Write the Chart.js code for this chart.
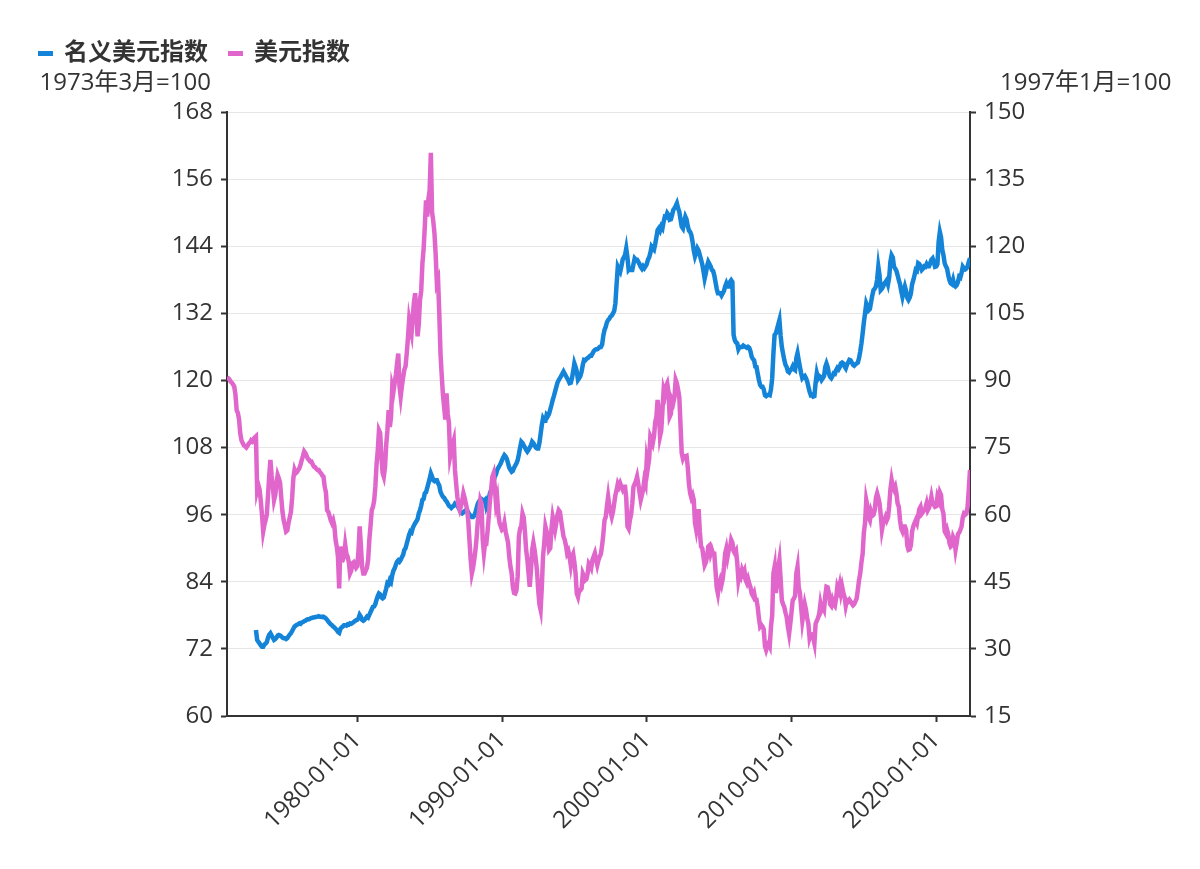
<!DOCTYPE html>
<html><head><meta charset="utf-8">
<script src="https://cdn.jsdelivr.net/npm/chart.js@4.4.1/dist/chart.umd.min.js"></script>
<style>html,body{margin:0;padding:0;background:#fff;}#wrap{width:1200px;height:869px;}</style>
</head><body><div id="wrap"><canvas id="c" width="1200" height="869"></canvas></div>
<script>
// monthly series, first month of the x axis = 1971-01
const firstYear = 1971;
const seriesNames = ['名义美元指数', '美元指数'];
const axisNames = ['1973年3月=100', '1997年1月=100'];
const xTickDates = ['1980-01-01', '1990-01-01', '2000-01-01', '2010-01-01', '2020-01-01'];
const leftTicks = [60, 72, 84, 96, 108, 120, 132, 144, 156, 168];
const rightTicks = [15, 30, 45, 60, 75, 90, 105, 120, 135, 150];

// 美元指数 (left axis), monthly from 1971-01
const dxyStart = '1971-01';
const dxy = [
120.5,120.4,120.2,119.8,119.6,119.3,118.9,117.5,114.7,114.2,113.0,110.5,
109.3,108.8,108.4,108.2,108.0,108.3,108.7,108.9,109.3,109.1,109.5,109.8,
110.0,100.4,101.3,100.5,98.5,96.0,93.0,94.2,95.0,96.0,99.5,103.0,
105.8,103.0,101.0,98.6,99.5,101.5,103.1,102.5,101.7,99.0,96.5,95.0,
94.0,93.0,93.2,94.5,95.5,96.5,99.0,102.5,104.0,103.4,103.6,104.0,
104.3,105.0,105.8,106.5,107.3,107.0,106.5,106.0,105.8,105.5,105.5,105.0,
104.6,104.5,104.2,104.0,104.0,103.6,103.4,103.0,102.8,101.0,100.0,96.8,
96.5,95.8,95.0,94.5,95.0,94.0,91.5,90.3,88.5,82.8,90.3,88.0,
87.9,88.5,90.6,89.0,88.5,87.5,85.5,86.0,87.3,87.5,87.0,86.5,
86.8,89.5,93.9,90.5,86.7,85.5,85.5,86.0,86.5,87.9,91.5,94.0,
96.8,97.4,98.5,101.0,105.0,107.5,111.1,110.6,106.5,103.5,102.8,104.5,
108.5,111.1,114.7,111.7,113.5,118.9,118.0,119.5,121.0,123.0,124.8,119.0,
117.1,119.0,120.5,121.9,122.5,124.8,127.5,130.8,129.5,128.4,131.5,134.0,
135.6,131.5,127.9,130.0,134.4,136.0,140.9,143.5,147.5,152.2,149.3,152.5,
154.0,160.7,150.1,148.5,146.3,142.5,137.4,138.0,132.0,124.8,121.0,117.5,
115.3,113.0,117.7,114.0,112.4,106.4,107.5,108.5,109.3,104.0,101.5,99.2,
97.5,96.8,97.5,98.5,99.8,99.0,98.0,97.0,95.0,91.5,88.0,85.5,
86.5,88.0,89.7,92.0,95.0,96.5,98.6,98.0,91.5,89.1,91.0,90.9,
93.0,95.6,98.5,100.5,102.8,103.4,101.0,98.0,99.0,96.0,94.5,93.9,
93.3,93.5,94.5,93.0,92.0,91.0,88.5,86.7,85.5,83.1,82.0,81.9,
82.5,85.0,92.1,93.5,94.0,96.2,95.5,93.0,89.7,88.0,85.5,83.1,
86.0,89.7,91.0,89.7,88.0,86.0,82.5,80.0,79.0,83.0,88.5,90.9,
93.9,93.0,91.5,89.7,90.0,93.5,95.6,94.5,93.3,94.5,96.0,96.8,
96.5,95.0,93.5,92.1,91.5,90.5,89.1,89.5,88.5,87.0,88.5,89.0,
87.5,85.5,81.9,81.3,82.5,82.5,82.8,85.5,85.0,84.3,84.5,85.5,
87.3,87.0,86.5,87.9,88.5,89.1,88.0,87.0,87.9,88.5,89.0,90.5,
92.5,95.0,95.6,97.5,99.2,97.5,96.5,95.6,96.5,98.0,99.5,100.4,
101.5,101.0,101.6,101.0,100.5,101.0,101.0,99.0,93.9,93.5,95.0,96.0,
98.0,101.0,101.5,102.0,102.8,101.5,100.0,98.6,99.5,100.5,102.2,101.5,
105.8,104.5,106.0,110.0,109.5,108.8,110.0,112.5,113.5,116.5,114.5,110.0,
111.0,114.5,118.3,117.5,119.0,119.5,118.0,113.5,114.0,116.5,116.0,117.0,
120.1,119.5,118.3,117.0,112.0,107.0,106.0,106.5,106.4,106.5,104.5,101.5,
99.8,99.0,99.5,98.6,94.5,93.3,95.0,97.0,93.0,90.3,90.0,88.5,
87.0,87.5,88.5,90.3,90.5,89.0,89.7,89.0,89.0,86.0,83.0,81.9,
83.5,84.3,83.5,84.5,86.5,89.1,90.0,88.5,89.7,90.0,91.5,91.0,
89.5,89.1,89.5,87.5,84.3,85.5,85.0,86.1,85.5,86.0,84.3,83.8,
84.5,83.7,83.0,81.9,81.5,82.0,80.8,80.8,79.5,77.5,76.0,76.3,
76.0,75.5,72.5,71.8,72.5,73.0,72.5,76.0,78.0,85.5,86.7,82.0,
83.5,86.5,87.9,84.5,80.7,80.0,79.5,78.5,77.7,76.0,74.7,76.5,
78.5,80.7,81.0,81.5,85.5,86.7,83.0,82.0,79.5,77.0,78.5,80.0,
79.0,77.5,76.5,74.0,74.7,74.5,74.0,73.0,76.5,77.0,77.5,78.3,
80.1,79.0,79.5,79.0,81.5,83.1,83.0,82.0,80.0,79.7,80.7,80.0,
79.7,81.0,83.1,82.5,83.5,82.0,83.1,82.0,81.3,79.7,80.7,80.5,
80.8,80.5,80.1,79.8,80.0,80.5,81.0,82.5,84.3,85.5,87.5,89.0,
92.8,94.5,98.6,97.5,95.5,95.0,96.5,95.8,96.0,96.8,99.0,99.8,
99.0,98.0,96.0,93.3,94.5,95.0,95.6,95.0,95.5,97.5,100.5,102.2,
101.0,100.5,101.0,99.8,98.0,97.4,95.0,93.5,93.0,93.9,93.9,93.3,
90.5,89.7,89.8,90.5,93.0,93.9,94.5,95.0,94.5,95.8,97.0,97.4,
96.2,96.5,96.8,97.2,98.0,96.8,97.2,98.0,99.2,98.0,97.8,97.4,
97.5,99.2,98.6,100.0,99.5,97.0,96.2,93.0,92.6,93.3,92.5,90.9,
90.3,90.5,92.0,91.5,89.7,91.0,92.5,92.8,93.3,93.9,95.5,96.2,
96.0,96.2,97.4,100.5,104.0
];

// 名义美元指数 (right axis), monthly from 1973-01
const broadStart = '1973-01';
const broad = [
34.2,32.0,31.6,31.2,30.8,30.5,30.5,31.0,31.2,31.5,32.5,33.2,
33.5,33.0,32.5,32.0,32.2,32.5,33.0,33.1,33.0,32.8,32.5,32.4,
32.4,32.2,32.4,32.8,33.2,33.5,34.0,34.5,35.0,35.2,35.4,35.5,
35.7,35.6,35.9,36.0,36.2,36.3,36.5,36.6,36.6,36.8,36.9,37.0,
37.0,37.1,37.1,37.2,37.3,37.2,37.2,37.1,37.2,37.0,36.8,36.5,
36.1,35.8,35.5,35.3,35.0,34.8,34.5,34.2,33.8,33.6,34.5,34.8,
35.0,35.3,35.3,35.2,35.5,35.4,35.7,35.6,35.8,36.0,36.2,36.4,
36.5,36.8,37.6,37.2,36.5,36.3,36.5,36.8,37.2,37.0,37.6,38.2,
38.8,39.4,39.5,40.0,41.0,41.8,42.4,42.2,41.5,41.3,41.5,42.5,
43.5,44.7,44.5,45.4,45.0,46.5,47.5,48.0,48.8,49.5,49.8,49.5,
49.9,50.5,51.0,52.1,52.5,53.5,54.5,55.5,56.2,56.0,57.0,57.6,
58.1,58.5,59.0,60.3,61.0,62.0,63.3,63.5,64.8,65.0,66.0,67.0,
68.0,69.2,68.5,67.7,67.5,67.7,67.7,67.0,66.5,65.1,64.5,64.0,
63.8,63.3,63.0,62.5,62.0,61.8,61.5,61.8,62.0,62.5,62.3,62.0,
61.5,61.0,60.5,60.3,60.5,60.8,61.0,61.0,60.5,60.0,59.8,59.5,
59.5,59.8,60.5,61.5,62.5,63.0,63.3,63.5,63.3,63.0,63.3,61.8,
62.5,63.5,64.8,65.5,66.5,67.5,68.5,69.0,70.0,70.5,71.0,71.5,
72.2,72.8,73.3,73.0,72.5,71.5,70.5,70.0,69.6,69.8,70.5,71.0,
71.5,72.2,73.5,75.0,76.3,76.0,75.5,75.0,74.5,74.1,74.5,75.0,
75.5,76.3,76.0,75.5,75.0,74.8,74.8,76.0,78.0,80.0,81.5,81.0,
81.0,82.3,82.0,82.5,83.5,84.5,85.6,86.5,87.5,88.5,89.5,90.1,
90.5,91.0,91.5,92.0,91.5,91.0,90.5,90.0,89.4,89.5,90.5,92.0,
93.8,93.0,92.0,90.1,90.5,91.0,92.0,93.5,94.6,94.5,94.8,95.0,
95.2,95.5,95.5,96.0,96.5,96.8,97.0,97.0,97.2,97.5,97.5,98.0,
100.0,101.3,102.0,103.0,103.5,103.8,104.3,104.5,105.0,105.5,107.2,111.5,
115.4,114.8,114.3,115.5,117.0,117.5,118.0,119.5,117.5,114.7,115.0,114.7,
114.7,116.0,117.3,117.0,117.0,116.5,116.0,115.4,115.0,115.5,115.1,115.5,
116.0,117.0,117.5,118.5,119.9,119.5,119.2,120.5,122.0,123.6,124.0,123.5,
124.4,124.0,125.5,126.6,126.5,127.4,127.0,125.9,126.0,127.0,128.1,128.5,
129.0,129.6,128.5,127.7,126.0,124.4,124.0,125.5,126.6,126.0,124.5,123.5,
123.2,122.5,121.0,119.0,117.7,118.5,119.5,119.0,118.0,117.0,116.0,114.5,
112.8,114.0,115.5,116.5,116.0,115.5,114.7,114.5,113.5,112.0,110.5,109.5,
109.5,109.5,109.0,109.5,110.0,111.0,111.7,111.0,111.0,112.0,112.4,112.0,
100.2,99.0,98.5,98.3,97.0,97.5,97.5,97.5,97.8,97.6,97.5,97.3,
97.5,97.3,96.5,95.3,94.8,94.5,93.1,93.0,91.5,90.1,89.0,88.6,
88.6,88.0,86.7,86.5,86.7,86.8,86.7,88.0,90.5,96.0,100.2,100.5,
101.5,102.5,103.5,100.0,97.5,96.0,94.6,93.5,93.0,92.0,91.8,92.3,
92.5,93.1,92.5,92.3,95.0,96.1,94.5,93.0,91.6,90.5,90.8,91.0,
90.5,89.8,88.6,87.5,86.7,86.8,86.4,86.5,89.5,91.6,90.5,91.0,
90.8,90.1,90.5,91.0,93.0,93.8,93.0,91.5,90.8,90.5,91.0,91.6,
91.5,92.3,92.8,92.5,93.0,93.8,94.0,93.8,93.1,92.7,93.5,94.0,
94.6,94.5,94.0,93.5,93.3,93.6,93.8,94.0,95.0,96.5,98.3,100.5,
103.0,105.0,107.2,106.5,105.7,106.0,107.5,109.0,110.2,110.5,111.0,112.5,
115.4,113.5,110.2,110.5,111.0,111.7,112.0,112.4,111.5,113.0,116.5,118.0,
117.5,115.4,115.0,114.5,113.5,112.4,111.5,110.0,108.7,110.0,111.0,110.0,
108.5,108.0,108.5,109.5,111.5,112.4,113.5,114.7,114.5,116.2,116.0,115.5,
114.7,115.0,115.5,115.4,116.0,115.5,115.5,116.2,117.0,117.3,116.5,115.4,
115.5,116.0,121.0,123.2,122.0,119.2,118.0,116.2,115.5,115.0,113.5,112.4,
111.7,111.5,112.5,111.3,111.0,111.3,112.0,113.2,113.0,114.0,115.4,115.0,
114.8,115.0,115.5,116.5,117.3
];

const colors = { broad: '#1384d8', dxy: '#e066cc', text: '#333333', axis: '#333333', grid: '#e6e6e6' };
const FONT = "'Open Sans', 'Noto Sans CJK SC', sans-serif";

function monthIndex(s) { const p = s.split('-'); return (parseInt(p[0]) - firstYear) * 12 + parseInt(p[1]) - 1; }
function toPoints(arr, start) { const o = monthIndex(start); return arr.map((v, i) => ({ x: o + i, y: v })); }
function labelFor(v) { const y = firstYear + Math.floor(v / 12); const m = (v % 12) + 1; return y + '-' + String(m).padStart(2, '0') + '-01'; }
const xTickVals = xTickDates.map(d => monthIndex(d.slice(0, 7)));
const xMax = monthIndex(dxyStart) + dxy.length - 1;

const overlay = {
  id: 'overlay',
  afterDraw(chart) {
    const ctx = chart.ctx, a = chart.chartArea;
    ctx.save();
    // legend
    const items = [{ t: seriesNames[0], c: colors.broad, x: 38 }, { t: seriesNames[1], c: colors.dxy, x: 228 }];
    ctx.font = 'bold 24px ' + FONT;
    ctx.textBaseline = 'middle';
    ctx.textAlign = 'left';
    items.forEach(it => {
      ctx.fillStyle = it.c;
      ctx.fillRect(it.x, 51, 15, 5);
      ctx.fillStyle = colors.text;
      ctx.fillText(it.t, it.x + 26, 53);
    });
    // axis names
    ctx.font = '24px ' + FONT;
    ctx.fillStyle = colors.text;
    ctx.textAlign = 'right';
    ctx.fillText(axisNames[0], a.left - 16, 83);
    ctx.textAlign = 'left';
    ctx.fillText(axisNames[1], a.right + 30, 83);
    ctx.restore();
  }
};

new Chart(document.getElementById('c'), {
  type: 'line',
  data: {
    datasets: [
      { label: seriesNames[0], data: toPoints(broad, broadStart), yAxisID: 'yR', borderColor: colors.broad, backgroundColor: colors.broad, borderWidth: 4.5, pointRadius: 0, tension: 0, order: 1 },
      { label: seriesNames[1], data: toPoints(dxy, dxyStart), yAxisID: 'yL', borderColor: colors.dxy, backgroundColor: colors.dxy, borderWidth: 4.5, pointRadius: 0, tension: 0, order: 0 }
    ]
  },
  options: {
    responsive: false,
    animation: false,
    devicePixelRatio: 1,
    layout: { padding: { top: 112, left: 0, right: 0, bottom: 0 } },
    plugins: { legend: { display: false }, tooltip: { enabled: false } },
    scales: {
      x: {
        type: 'linear', min: 0, max: xMax,
        afterBuildTicks: s => { s.ticks = xTickVals.map(v => ({ value: v })); },
        afterFit: s => { s.height = 153; },
        ticks: { callback: v => labelFor(v), maxRotation: 45, minRotation: 45, autoSkip: false, color: colors.text, font: { family: FONT, size: 24 }, padding: 4 },
        grid: { drawOnChartArea: false, drawTicks: true, tickLength: 6, tickColor: colors.axis, tickWidth: 2 },
        border: { color: colors.axis, width: 2 }
      },
      yL: {
        position: 'left', min: 60, max: 168,
        afterBuildTicks: s => { s.ticks = leftTicks.map(v => ({ value: v })); },
        afterFit: s => { s.width = 227; },
        ticks: { color: colors.text, font: { family: FONT, size: 24 }, padding: 8 },
        grid: { color: colors.grid, lineWidth: 1, drawTicks: true, tickLength: 6, tickColor: colors.axis, tickWidth: 2 },
        border: { color: colors.axis, width: 2 }
      },
      yR: {
        position: 'right', min: 15, max: 150,
        afterBuildTicks: s => { s.ticks = rightTicks.map(v => ({ value: v })); },
        afterFit: s => { s.width = 230; },
        ticks: { color: colors.text, font: { family: FONT, size: 24 }, padding: 8 },
        grid: { drawOnChartArea: false, drawTicks: true, tickLength: 6, tickColor: colors.axis, tickWidth: 2 },
        border: { color: colors.axis, width: 2 }
      }
    }
  },
  plugins: [overlay]
});
</script></body></html>
